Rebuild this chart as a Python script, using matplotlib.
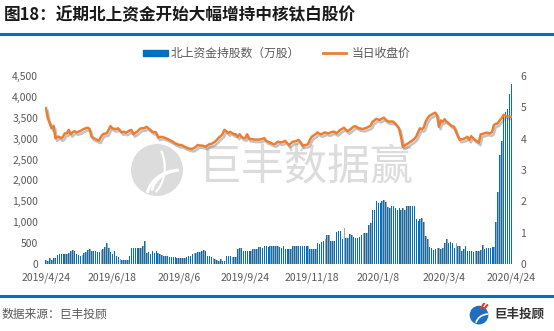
import numpy as np
import matplotlib
matplotlib.use("Agg")
import matplotlib.pyplot as plt
import matplotlib.patheffects as pe
from matplotlib.patches import Circle, Arc, Rectangle
from matplotlib.lines import Line2D

plt.rcParams['font.family'] = ['Noto Sans CJK SC', 'DejaVu Sans']

# 北上资金持股数（万股），每个交易日一根柱
holdings = [
    100, 60, 150, 100, 150, 150, 220, 230, 240, 240,
    240, 250, 270, 300, 330, 320, 230, 220, 200, 220,
    260, 280, 330, 350, 300, 300, 300, 290, 280, 330,
    350, 400, 500, 380, 280, 250, 300, 200, 160, 120,
    100, 100, 90, 90, 200, 380, 380, 380, 380, 380,
    380, 440, 540, 260, 280, 240, 300, 260, 300, 260,
    240, 220, 200, 200, 180, 170, 160, 160, 160, 150,
    150, 150, 150, 150, 160, 180, 180, 240, 270, 270,
    280, 290, 310, 330, 300, 200, 180, 170, 140, 110,
    90, 60, 110, 80, 60, 200, 180, 180, 160, 170,
    170, 360, 380, 380, 320, 300, 300, 300, 300, 360,
    370, 370, 400, 400, 390, 420, 420, 410, 420, 420,
    440, 430, 420, 400, 390, 440, 360, 360, 360, 360,
    440, 440, 440, 440, 440, 440, 440, 440, 440, 370,
    370, 360, 370, 500, 480, 520, 560, 600, 700, 700,
    560, 560, 560, 775, 780, 780, 600, 870, 620, 620,
    720, 700, 640, 630, 620, 640, 700, 740, 740, 740,
    940, 980, 1300, 1300, 1500, 1460, 1450, 1500, 1520, 1480,
    1370, 1340, 1400, 1380, 1350, 1300, 1340, 1300, 1340, 1300,
    1390, 1390, 1390, 1390, 1390, 1070, 1040, 1080, 1100, 1000,
    660, 600, 400, 375, 340, 360, 375, 375, 370, 375,
    500, 590, 500, 520, 500, 375, 500, 430, 430, 300,
    350, 430, 300, 300, 300, 290, 300, 300, 300, 340,
    460, 350, 380, 390, 390, 400, 400, 1000, 1720, 2600,
    2950, 3600, 3650, 3700, 4080, 4300,
]

# 当日收盘价（元）
close = [
    4.97, 4.65, 4.49, 4.33, 4.41, 4.01, 4.06, 4.06, 4.01, 4.06,
    4.17, 4.17, 4.28, 4.14, 4.20, 4.24, 4.20, 4.22, 4.24, 4.28,
    4.31, 4.33, 4.35, 4.31, 4.06, 4.02, 3.99, 3.96, 3.94, 4.06,
    4.14, 4.16, 4.17, 4.28, 4.40, 4.33, 4.31, 4.31, 4.33, 4.26,
    4.20, 4.22, 4.19, 4.22, 4.26, 4.28, 4.14, 4.18, 4.22, 4.28,
    4.33, 4.33, 4.34, 4.38, 4.33, 4.28, 4.22, 4.21, 4.20, 4.04,
    4.05, 4.06, 4.04, 4.02, 3.99, 3.96, 3.93, 3.90, 3.85, 3.83,
    3.80, 3.80, 3.78, 3.74, 3.72, 3.69, 3.68, 3.67, 3.70, 3.74,
    3.80, 3.78, 3.78, 3.77, 3.74, 3.78, 3.82, 3.83, 3.86, 3.90,
    3.96, 4.03, 4.08, 4.14, 4.28, 4.24, 4.17, 4.22, 4.18, 4.14,
    4.14, 4.06, 4.14, 4.06, 4.02, 4.02, 4.14, 3.99, 3.99, 3.98,
    3.97, 3.97, 3.97, 3.98, 3.99, 4.02, 3.93, 3.90, 3.88, 3.85,
    3.82, 3.84, 3.90, 3.89, 3.88, 3.90, 3.93, 3.86, 3.80, 3.85,
    3.90, 3.91, 3.93, 3.96, 3.90, 3.78, 3.79, 3.80, 3.82, 3.96,
    4.06, 4.10, 4.14, 4.20, 4.16, 4.14, 4.17, 4.20, 4.18, 4.17,
    4.20, 4.22, 4.22, 4.17, 4.22, 4.28, 4.31, 4.35, 4.28, 4.24,
    4.28, 4.33, 4.38, 4.40, 4.36, 4.33, 4.32, 4.31, 4.33, 4.35,
    4.38, 4.41, 4.54, 4.58, 4.63, 4.61, 4.60, 4.64, 4.67, 4.60,
    4.56, 4.54, 4.55, 4.54, 4.48, 4.41, 4.33, 4.06, 3.74, 3.78,
    3.82, 3.86, 3.90, 3.94, 3.99, 4.06, 4.20, 4.33, 4.30, 4.35,
    4.54, 4.65, 4.73, 4.76, 4.80, 4.83, 4.76, 4.38, 4.58, 4.54,
    4.62, 4.54, 4.50, 4.44, 4.40, 4.38, 4.22, 4.08, 3.96, 3.98,
    3.99, 4.02, 4.06, 3.96, 4.08, 4.02, 3.96, 3.92, 3.87, 4.14,
    4.15, 4.17, 4.19, 4.18, 4.17, 4.22, 4.44, 4.47, 4.49, 4.58,
    4.65, 4.76, 4.74, 4.70, 4.71, 4.70,
]

tick_labels = ['2019/4/24', '2019/6/18', '2019/8/6', '2019/9/24',
               '2019/11/18', '2020/1/8', '2020/3/4', '2020/4/24']
left_ticks = [0, 500, 1000, 1500, 2000, 2500, 3000, 3500, 4000, 4500]
right_ticks = [0, 1, 2, 3, 4, 5, 6]

BLUE = '#0070C0'
ORANGE = '#ED7D31'
GREY_TXT = '#595959'

W, H = 554, 331
fig = plt.figure(figsize=(W / 100, H / 100), dpi=100)


def box(x0, y0, x1, y1):
    # pixel box (top-left origin) -> figure fraction rect
    return [x0 / W, 1 - y1 / H, (x1 - x0) / W, (y1 - y0) / H]


# 标题与分隔线
fig.text(4 / W, 1 - 15 / H, '图18：近期北上资金开始大幅增持中核钛白股价',
         fontsize=12, fontweight='bold', color='#1a1a1a', va='center', ha='left')
fig.add_artist(Line2D([0, 1], [1 - 33.5 / H] * 2, color=BLUE, lw=2.2))
fig.add_artist(Line2D([0, 1], [1 - 296 / H] * 2, color=BLUE, lw=2.2))

# 水印
wm = fig.add_axes(box(131, 144, 183, 196))
wm.set_aspect('equal')
wm.set_xlim(-1, 1)
wm.set_ylim(-1, 1)
wm.axis('off')
wm.add_patch(Circle((0, 0), 1, color='#DCDCDC', lw=0))
wm.add_patch(Arc((0.9, -1.1), 2.6, 2.2, theta1=95, theta2=170, color='white', lw=2.2))
wm.add_patch(Arc((1.0, -0.9), 2.4, 1.8, theta1=100, theta2=175, color='white', lw=1.8))
wm.add_patch(Arc((-0.6, 0.1), 1.8, 2.4, theta1=-60, theta2=40, color='white', lw=1.6))
wm.set_zorder(-2)
fig.text(306 / W, 1 - 168 / H, '巨丰数据赢', fontsize=31, color='#DCDCDC',
         ha='center', va='center', zorder=-2)

ax = fig.add_axes(box(45, 76, 512, 264))
ax.patch.set_visible(False)
x = np.arange(len(holdings))
# 柱子带一点灰色阴影
ax.bar(x + 0.3, holdings, width=0.45, color='#A6A6A6', zorder=1)
ax.bar(x, holdings, width=0.5, color=BLUE, zorder=2)
ax.set_xlim(-0.5, len(holdings) - 0.5)
ax.set_ylim(0, 4500)
ax.set_yticks(left_ticks)
ax.set_yticklabels([f'{v:,}' for v in left_ticks])
ax.set_xticks(np.arange(0, len(holdings), 35))
ax.set_xticklabels(tick_labels)
for s in ax.spines.values():
    s.set_visible(False)
ax.tick_params(length=0, labelsize=7.5, colors=GREY_TXT)
ax.tick_params(axis='x', pad=6)
ax.tick_params(axis='y', pad=5)

ax2 = ax.twinx()
ax2.patch.set_visible(False)
ax2.plot(x, close, color=ORANGE, lw=1.8, zorder=3,
         path_effects=[pe.SimpleLineShadow(offset=(1.2, -1.8), shadow_color='#555555', alpha=0.35),
                       pe.Normal()])
ax2.set_ylim(0, 6)
ax2.set_yticks(right_ticks)
for s in ax2.spines.values():
    s.set_visible(False)
ax2.tick_params(length=0, labelsize=7.5, colors=GREY_TXT, pad=6)

# 图例
lx, ly = 143, 53
fig.add_artist(Rectangle((lx / W, 1 - (ly + 3) / H), 25 / W, 6 / H, color=BLUE,
                         transform=fig.transFigure))
fig.text(171 / W, 1 - ly / H, '北上资金持股数（万股）', fontsize=8.5, color=GREY_TXT,
         va='center', ha='left')
fig.add_artist(Line2D([323 / W, 346 / W], [1 - ly / H] * 2, color=ORANGE, lw=2))
fig.text(352 / W, 1 - ly / H, '当日收盘价', fontsize=8.5, color=GREY_TXT,
         va='center', ha='left')

# 页脚
fig.text(2 / W, 1 - 314 / H, '数据来源：巨丰投顾', fontsize=8.5, color=GREY_TXT,
         va='center', ha='left')
lg = fig.add_axes(box(468, 303, 490, 325))
lg.set_aspect('equal')
lg.set_xlim(-1, 1)
lg.set_ylim(-1, 1)
lg.axis('off')
lg.add_patch(Circle((0, -0.1), 0.85, color='#1F6FBF', lw=0))
lg.add_patch(Arc((0.9, -1.0), 2.4, 2.0, theta1=95, theta2=170, color='white', lw=1.2))
lg.plot([0.2, 0.45], [0.55, 0.95], color='#E03C31', lw=1.5)
lg.plot([0.45, 0.75], [0.45, 0.8], color='#E03C31', lw=1.5)
fig.text(494 / W, 1 - 314 / H, '巨丰投顾', fontsize=9, fontweight='bold', color='#333333',
         va='center', ha='left')

fig.savefig('out.png', dpi=100)
